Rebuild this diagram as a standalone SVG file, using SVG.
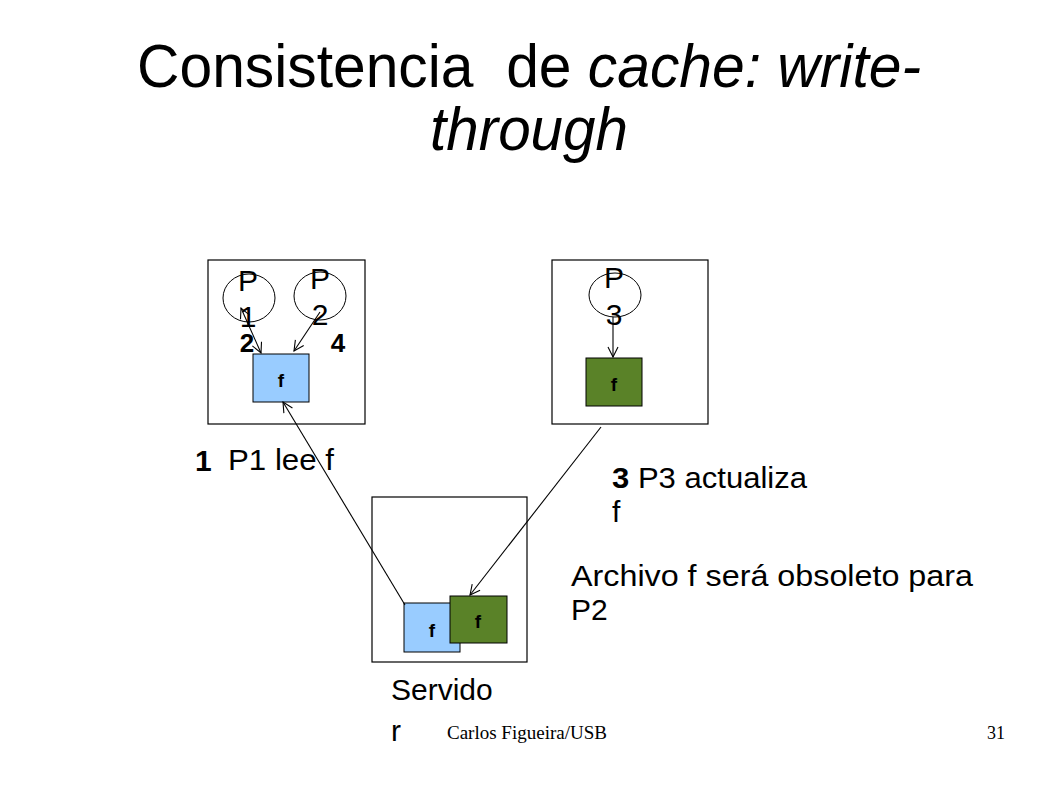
<svg xmlns="http://www.w3.org/2000/svg" width="1058" height="793" viewBox="0 0 1058 793">
<style>
.t{font-family:"Liberation Sans",Arial,sans-serif;fill:#000}
.box{fill:#fff;stroke:#000;stroke-width:1.2}
.proc{fill:none;stroke:#000;stroke-width:1}
.blue{fill:#99CCFF;stroke:#000;stroke-width:1}
.green{fill:#5A8228;stroke:#000;stroke-width:1}
.ln{stroke:#000;stroke-width:1.1;fill:none}
.ff{font-family:"Liberation Sans",Arial,sans-serif;font-weight:bold;font-size:19px;text-anchor:middle}
.pl{font-family:"Liberation Sans",Arial,sans-serif;font-size:30px;text-anchor:middle}
.lab{font-family:"Liberation Sans",Arial,sans-serif;font-size:30px}
.num{font-family:"Liberation Sans",Arial,sans-serif;font-size:26px;font-weight:bold;text-anchor:middle}
</style>
<defs>
<marker id="ah" viewBox="0 0 12 12" refX="11" refY="6" markerWidth="12" markerHeight="12" markerUnits="userSpaceOnUse" orient="auto-start-reverse">
<path d="M1,1 L11,6 L1,11" fill="none" stroke="#000" stroke-width="1.1"/>
</marker>
</defs>
<rect width="1058" height="793" fill="#fff"/>
<g id="title">
<text class="t" x="137" y="87" font-size="62" xml:space="preserve" textLength="784" lengthAdjust="spacingAndGlyphs">Consistencia  de <tspan font-style="italic">cache: write-</tspan></text>
<text class="t" x="430" y="150" font-size="62" font-style="italic" textLength="198" lengthAdjust="spacingAndGlyphs">through</text>
</g>
<g id="client1">
<rect class="box" x="208" y="260" width="157" height="164"/>
<g id="p1">
<ellipse class="proc" cx="249" cy="298" rx="26" ry="24"/>
<text class="pl" x="248" y="291">P</text>
<text class="pl" x="248" y="327">1</text>
</g>
<g id="p2">
<ellipse class="proc" cx="320" cy="296" rx="26" ry="24"/>
<text class="pl" x="320" y="289">P</text>
<text class="pl" x="320" y="325">2</text>
</g>
<g id="cache1">
<rect class="blue" x="253" y="354" width="56" height="48"/>
<text class="ff" x="281" y="387">f</text>
</g>
<text class="num" x="247" y="352">2</text>
<text class="num" x="338" y="352">4</text>
</g>
<g id="client2">
<rect class="box" x="552" y="260" width="156" height="164"/>
<g id="p3">
<ellipse class="proc" cx="615" cy="295" rx="26" ry="22"/>
<text class="pl" x="614" y="288">P</text>
<text class="pl" x="614" y="325">3</text>
</g>
<g id="cache3">
<rect class="green" x="586" y="358" width="56" height="48"/>
<text class="ff" x="614" y="391">f</text>
</g>
</g>
<g id="server">
<rect class="box" x="372" y="497" width="155" height="165"/>
<g id="sfile-old">
<rect class="blue" x="404" y="603" width="56" height="49"/>
<text class="ff" x="432" y="637">f</text>
</g>
<g id="sfile-new">
<rect class="green" x="450" y="596" width="57" height="47"/>
<text class="ff" x="478" y="628">f</text>
</g>
</g>
<g id="connectors">
<line class="ln" x1="241" y1="308" x2="261" y2="353" marker-start="url(#ah)" marker-end="url(#ah)"/>
<line class="ln" x1="320" y1="312" x2="294" y2="351" marker-end="url(#ah)"/>
<line class="ln" x1="613" y1="317" x2="613" y2="357" marker-end="url(#ah)"/>
<line class="ln" x1="405" y1="605" x2="283" y2="402" marker-end="url(#ah)"/>
<line class="ln" x1="601" y1="427" x2="470" y2="595" marker-end="url(#ah)"/>
</g>
<g id="labels">
<text class="lab" x="195" y="471" font-size="28" font-weight="bold">1</text>
<text class="lab" x="228" y="470" textLength="106" lengthAdjust="spacingAndGlyphs">P1 lee f</text>
<text class="lab" x="612" y="488" xml:space="preserve" textLength="195" lengthAdjust="spacingAndGlyphs"><tspan font-weight="bold">3</tspan> P3 actualiza</text>
<text class="lab" x="612" y="522">f</text>
<text class="lab" x="571" y="586" textLength="402" lengthAdjust="spacingAndGlyphs">Archivo f será obsoleto para</text>
<text class="lab" x="571" y="620">P2</text>
<text class="lab" x="391" y="700" font-size="29">Servido</text>
<text class="lab" x="391" y="741" font-size="29">r</text>
</g>
<g id="footer">
<text x="447" y="739" font-family="'Liberation Serif','Times New Roman',serif" font-size="19">Carlos Figueira/USB</text>
<text x="987" y="739" font-family="'Liberation Serif','Times New Roman',serif" font-size="18">31</text>
</g>
</svg>
